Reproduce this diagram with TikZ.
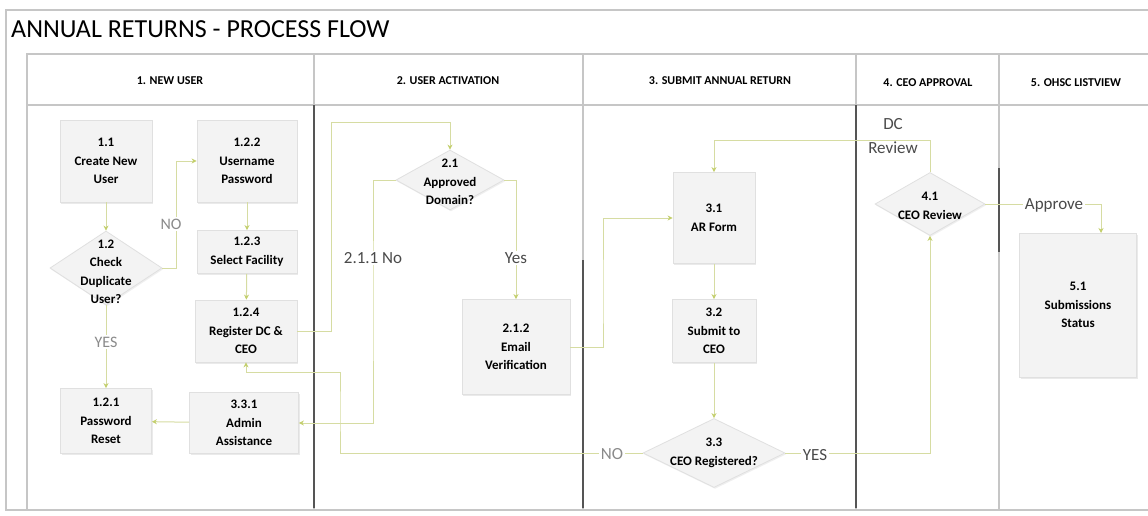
\documentclass[tikz,border=0pt]{standalone}
\usepackage{fontspec}
\setmainfont{Carlito}
\usetikzlibrary{shapes.geometric,arrows.meta,shadows}
\definecolor{conn}{HTML}{D6DCA2}
\definecolor{tipc}{HTML}{C3CF6C}
\definecolor{boxfill}{HTML}{F3F3F3}
\definecolor{boxline}{HTML}{E0E0E0}
\definecolor{framec}{HTML}{C6C6C6}
\definecolor{lanedark}{HTML}{555555}
\definecolor{lblgray}{HTML}{8A8A8A}
\definecolor{lbldark}{HTML}{4A4A4A}
\newcommand{\nodefont}{\bfseries\fontsize{13}{18.5}\selectfont}
\tikzset{
  stepbox/.style={draw=boxline, fill=boxfill, line width=0.8pt, inner sep=0pt,
    align=center, font=\nodefont,
    drop shadow={opacity=0.16, shadow xshift=1.2pt, shadow yshift=-1.6pt}},
  decision/.style={diamond, draw=boxline, fill=boxfill, line width=0.8pt, inner sep=0pt,
    drop shadow={opacity=0.12, shadow xshift=1.0pt, shadow yshift=-1.4pt}},
  dtext/.style={align=center, font=\nodefont, inner sep=0pt},
  conn/.style={draw=conn, line width=1pt, -{Stealth[length=5pt,width=5pt,color=tipc]}},
  plainconn/.style={draw=conn, line width=1pt},
  lbl/.style={fill=white, inner sep=1.5pt, font=\fontsize{17}{19}\selectfont},
  hdr/.style={font=\bfseries\fontsize{12}{14}\selectfont, inner sep=0pt},
  frameline/.style={draw=framec, line width=1.2pt},
  darklane/.style={draw=lanedark, line width=1.6pt},
}
\begin{document}
\begin{tikzpicture}[x=1pt,y=-1pt]
\useasboundingbox[fill=white] (0,0) rectangle (1148,515);

% outer frame and lane frame
\draw[frameline] (1148,10) -- (6,10) -- (6,510) -- (1148,510);
\draw[frameline] (27,510) -- (27,54) -- (1148,54);
\draw[frameline] (27,105) -- (1148,105);
\foreach \x in {314,583,856,999} {\draw[frameline] (\x,54) -- (\x,510);}
\draw[darklane] (314,105) -- (314,508);
\draw[darklane] (583,260) -- (583,508);
\draw[darklane] (856,105) -- (856,508);
\draw[darklane] (999,168) -- (999,252);

% title and headers
\node[anchor=west, inner sep=0pt, font=\fontsize{26}{30}\selectfont] (title) at (11,29) {ANNUAL RETURNS - PROCESS FLOW};
\node[hdr] (h1) at (170,81) {1. NEW USER};
\node[hdr] (h2) at (448,81) {2. USER ACTIVATION};
\node[hdr] (h3) at (720,81) {3. SUBMIT ANNUAL RETURN};
\node[hdr] (h4) at (928,83) {4. CEO APPROVAL};
\node[hdr] (h5) at (1076,83) {5. OHSC LISTVIEW};

% lane 1
\node[stepbox, minimum width=92pt, minimum height=82pt] (t11) at (106,161) {1.1\\Create New\\User};
\node[decision, minimum width=112pt, minimum height=74pt] (d12) at (106,268) {};
\node[dtext] (d12t) at (106,272) {1.2\\Check\\Duplicate\\User?};
\node[stepbox, minimum width=100pt, minimum height=82pt] (t122) at (247,161) {1.2.2\\Username\\Password};
\node[stepbox, minimum width=100pt, minimum height=43pt] (t123) at (247,252) {1.2.3\\Select Facility};
\node[stepbox, minimum width=102pt, minimum height=62pt] (t124) at (246,331) {1.2.4\\Register DC \&\\CEO};
\node[stepbox, minimum width=91pt, minimum height=65pt] (t121) at (106,421) {1.2.1\\Password\\Reset};
\node[stepbox, minimum width=109pt, minimum height=61pt] (t331) at (244,423) {3.3.1\\Admin\\Assistance};

% lane 2
\node[decision, minimum width=108pt, minimum height=60pt] (d21) at (450,180) {};
\node[dtext] (d21t) at (450,182) {2.1\\Approved\\Domain?};
\node[stepbox, minimum width=108pt, minimum height=95pt] (t212) at (516,347) {2.1.2\\Email\\Verification};

% lane 3
\node[stepbox, minimum width=82pt, minimum height=91pt] (t31) at (714,218) {3.1\\AR Form};
\node[stepbox, minimum width=84pt, minimum height=63pt] (t32) at (714,331) {3.2\\Submit to\\CEO};
\node[decision, minimum width=142pt, minimum height=69pt] (d33) at (714,453) {};
\node[dtext] (d33t) at (714,453) {3.3\\CEO Registered?};

% lane 4
\node[decision, minimum width=110pt, minimum height=63pt] (d41) at (930,204) {};
\node[dtext] (d41t) at (930,206) {4.1\\CEO Review};

% lane 5
\node[stepbox, minimum width=117pt, minimum height=144pt] (t51) at (1078,305) {5.1\\Submissions\\Status};

% helper coordinates
\coordinate (c1) at (331,122);
\coordinate (c2) at (373,300);
\coordinate (c3) at (603,300);
\coordinate (c4) at (340,410);
\coordinate (c5) at (246,372);
\coordinate (c6) at (930,140);
\coordinate (c7) at (1101,233);

% connectors
\draw[conn] (t11) -- (d12);
\draw[conn] (d12.east) -- ++(14,0) |- (t122.west);
\draw[conn] (t122) -- (t123);
\draw[conn] (t123) -- (t124);
\draw[conn] (d12.south) -- (d12.south |- t121.north);
\draw[conn] (t331) -- (t121);
\draw[conn] (t124.east) -| (c1) -| (d21.north);
\draw[conn] (d21.west) -| (c2) |- (t331.east);
\draw[conn] (d21.east) -| (t212.north);
\draw[conn] (t212.east) -| (c3) |- (t31.west);
\draw[conn] (t31) -- (t32);
\draw[conn] (t32) -- (d33);
\draw[plainconn] (d33.west) -| (c4) |- (c5);
\draw[conn] (c5) -- (t124.south);
\draw[conn] (d33.east) -| (d41.south);
\draw[conn] (d41.north) |- (c6) -| (t31.north);
\draw[conn] (d41.east) -| (c7);

% labels
\node[lbl, text=lblgray, font=\fontsize{16}{18}\selectfont] (lno1) at (171,224) {NO};
\node[lbl, text=lblgray, font=\fontsize{16}{18}\selectfont] (lyes1) at (106,342) {YES};
\node[lbl, text=lbldark] (lno21) at (373,258) {2.1.1 No};
\node[lbl, text=lbldark] (lyes21) at (516,258) {Yes};
\node[lbl, text=lblgray] (lno33) at (612,454) {NO};
\node[lbl, text=lbldark] (lyes33) at (815,455) {YES};
\node[lbl, text=lbldark, align=center, font=\fontsize{17}{24}\selectfont, fill=none] (ldc) at (893,136) {DC\\Review};
\node[lbl, text=lbldark] (lapp) at (1054,205) {Approve};
\end{tikzpicture}
\end{document}
